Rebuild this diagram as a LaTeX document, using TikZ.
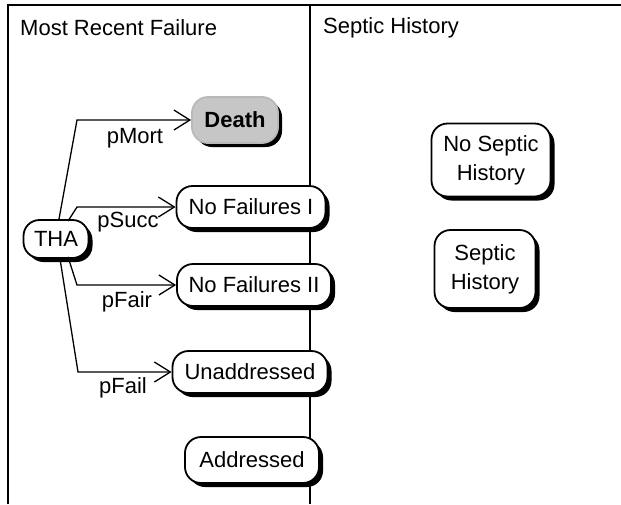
\documentclass[tikz,border=0pt]{standalone}
\usepackage{fontspec}
\setmainfont{Liberation Sans}
\usetikzlibrary{arrows.meta,shadows,calc}

\tikzset{
  state/.style={draw=black, line width=1.8pt, fill=white, rounded corners=16pt,
    inner xsep=8pt, inner ysep=7pt, align=center,
    font=\fontsize{22}{29}\selectfont,
    drop shadow={shadow xshift=4pt, shadow yshift=-4pt, fill=black, opacity=1}},
  deadstate/.style={state, draw=gray!55, fill=gray!45, font=\fontsize{22}{29}\selectfont\bfseries},
  trans/.style={line width=1.3pt, -{Straight Barb[length=16pt,width=20pt,line width=1.3pt]}},
  prob/.style={font=\fontsize{22}{25}\selectfont, inner sep=0pt},
  header/.style={font=\fontsize{22}{25}\selectfont, anchor=west, inner sep=0pt},
  frame/.style={line width=1.4pt}
}

\begin{document}
\begin{tikzpicture}[x=1pt, y=-1pt]
  \useasboundingbox (0,0) rectangle (621,504);

  % panel frame
  \draw[frame] (8,504) -- (8,5) -- (621,5);
  \draw[frame] (310,5) -- (310,504);

  \node[header] (hfail) at (20,28) {Most Recent Failure};
  \node[header] (hseptic) at (323,28) {Septic History};

  % states of the failure panel
  \node[state, minimum width=65pt, minimum height=38pt, inner xsep=4pt] (tha) at (56,239) {THA};
  \node[deadstate, minimum width=86pt, minimum height=46pt] (death) at (235,120) {Death};
  \node[state, minimum width=149pt, minimum height=42pt] (nf1) at (251,207) {No Failures I};
  \node[state, minimum width=154pt, minimum height=42pt] (nf2) at (254,285) {No Failures II};
  \node[state, minimum width=155pt, minimum height=42pt] (unad) at (250,372) {Unaddressed};
  \node[state, minimum width=134pt, minimum height=46pt] (addr) at (252,460) {Addressed};

  % states of the septic panel
  \node[state, minimum width=119pt, minimum height=73pt] (nosep) at (491,160) {No Septic\\History};
  \node[state, minimum width=101pt, minimum height=78pt] (sep) at (485,269) {Septic\\History};

  % transitions out of THA
  \coordinate (kmort) at (77,120);
  \coordinate (ksucc) at (77,207);
  \coordinate (kfair) at (77,285);
  \coordinate (kfail) at (78,372);
  \draw[trans] ($(tha.north)+(3,0)$) -- (kmort) -- (death);
  \draw[trans] ($(tha.north)+(12,2)$) -- (ksucc) -- (nf1);
  \draw[trans] ($(tha.south)+(12,-2)$) -- (kfair) -- (nf2);
  \draw[trans] ($(tha.south)+(4,0)$) -- (kfail) -- (unad);

  \node[prob] (lmort) at (135,138) {pMort};
  \node[prob] (lsucc) at (128,222) {pSucc};
  \node[prob] (lfair) at (127,302) {pFair};
  \node[prob] (lfail) at (123,388) {pFail};
\end{tikzpicture}
\end{document}
